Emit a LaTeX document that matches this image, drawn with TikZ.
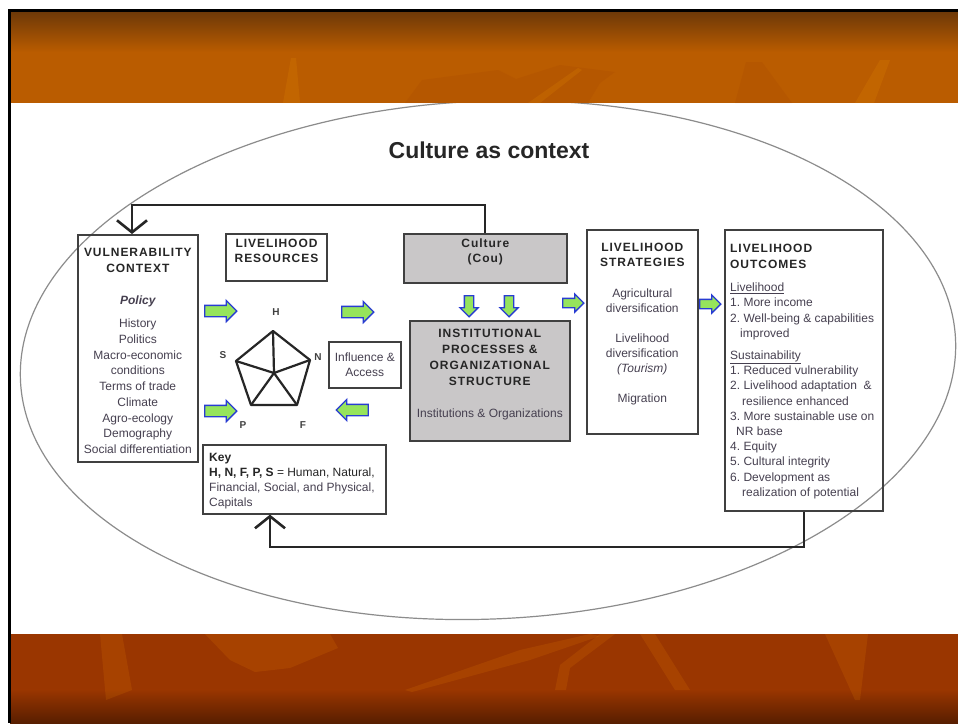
\documentclass[tikz,border=0pt]{standalone}
\usepackage{fontspec}
\setmainfont{Liberation Sans}
\newfontfamily\hdfont[LetterSpace=8]{Liberation Sans}
\usetikzlibrary{positioning,shapes.arrows,arrows.meta}
\frenchspacing

\definecolor{bandtop}{RGB}{108,56,8}
\definecolor{bandorange}{RGB}{186,92,0}
\definecolor{bandred}{RGB}{154,54,0}
\definecolor{banddark}{RGB}{88,30,0}
\definecolor{boxgray}{RGB}{201,199,200}
\definecolor{txtgray}{RGB}{70,64,80}
\definecolor{arrowgreen}{RGB}{150,228,92}
\definecolor{arrowblue}{RGB}{40,60,210}

\tikzset{
  box/.style={draw=black!75, line width=1.6pt, inner sep=0pt, anchor=north west, align=center},
  graybox/.style={box, fill=boxgray},
  hd/.style={font=\hdfont\fontsize{12}{16}\selectfont\bfseries, align=center, inner sep=0pt, text=black!85},
  body/.style={font=\fontsize{12}{15.6}\selectfont, align=center, inner sep=0pt, text=txtgray},
  caplabel/.style={font=\fontsize{10}{11}\selectfont\bfseries, inner sep=0pt, text=black!75},
  garrow/.style={single arrow, draw=arrowblue, fill=arrowgreen, line width=1.3pt,
                 inner xsep=0pt, inner ysep=5pt, single arrow head extend=5pt, minimum height=32pt},
  gsmall/.style={garrow, inner ysep=4pt, single arrow head extend=4.5pt, minimum height=21pt},
  feedback/.style={line width=2.2pt, black!85, -{Straight Barb[length=12pt,width=30pt,line width=2.6pt]}},
  ctxline/.style={black!45, line width=1.2pt},
  deco/.style={fill opacity=0.13}
}

\begin{document}
\begin{tikzpicture}[x=1pt,y=-1pt]
   \useasboundingbox (0,0) rectangle (958,723);
   %
   % slide background
   \fill[white] (0,0) rectangle (958,723);
   \draw[ctxline, rotate around={2.5:(488,360)}] (488,360) ellipse [x radius=468pt, y radius=259pt];
   %
   \shade[top color=bandtop, bottom color=bandorange] (10,11) rectangle (958,52);
   \fill[bandorange] (10,51.5) rectangle (958,103);
   \fill[deco, bandred] (405,103)--(422,80)--(498,70)--(516,79)--(560,65)--(615,72)--(600,83)--(588,103)--cycle;
   \fill[deco, orange!70!yellow] (283,103)--(291,58)--(296,58)--(300,103)--cycle;
   \fill[deco, orange!70!yellow] (528,103)--(578,68)--(582,70)--(540,103)--cycle;
   \fill[deco, bandred] (735,103)--(746,62)--(762,62)--(792,103)--cycle;
   \fill[deco, orange!70!yellow] (855,103)--(880,60)--(890,60)--(874,103)--cycle;
   %
   \fill[bandred] (10,634) rectangle (958,690);
   \shade[top color=bandred, bottom color=banddark] (10,689.5) rectangle (958,723);
   \fill[deco, orange!80!yellow] (100,634)--(122,634)--(132,690)--(106,700)--cycle;
   \fill[deco, orange!80!yellow] (205,634)--(230,660)--(255,672)--(290,668)--(338,648)--(330,634)--cycle;
   \fill[deco, orange!80!yellow] (405,690)--(520,650)--(590,634)--(600,636)--(530,660)--(412,692)--cycle;
   \fill[deco, orange!80!yellow] (555,690)--(560,665)--(600,634)--(615,634)--(570,668)--(566,690)--cycle;
   \fill[deco, orange!80!yellow] (640,634)--(655,634)--(690,690)--(675,690)--cycle;
   \fill[deco, orange!80!yellow] (825,634)--(868,634)--(860,700)--(855,700)--cycle;
   %
   \fill[black] (8,9) rectangle (11,723);
   \fill[black] (8,9) rectangle (958,11.5);
   %
   % title
   \node (title) [font=\fontsize{23}{28}\selectfont\bfseries, text=black!85] at (489,150) {Culture as context};
   %
   % boxes
   \node (vul) [box, minimum width=120pt, minimum height=227pt] at (77,234) {};
   \node (res) [box, minimum width=101pt, minimum height=47pt, line width=2pt] at (225,233) {};
   \node (inf) [box, minimum width=72pt, minimum height=46pt, text=txtgray,
                font=\fontsize{12}{15}\selectfont] at (328,341) {Influence \&\\Access};
   \node (key) [box, minimum width=183pt, minimum height=69pt] at (202,444) {};
   \node (cul) [graybox, minimum width=163pt, minimum height=49pt] at (403,233) {};
   \node (ins) [graybox, minimum width=160pt, minimum height=120pt] at (409,320) {};
   \node (str) [box, minimum width=111pt, minimum height=204pt] at (586,229) {};
   \node (out) [box, minimum width=158pt, minimum height=281pt] at (724,229) {};
   %
   % vulnerability context
   \node (vultitle) [hd, below=13.7pt of vul.north, font=\hdfont\fontsize{12}{16.5}\selectfont\bfseries] {VULNERABILITY\\CONTEXT};
   \node (vulpol) [body, below=61.5pt of vul.north, font=\fontsize{12}{15}\selectfont\bfseries\itshape] {Policy};
   \node (vullist) [body, below=84.7pt of vul.north, font=\fontsize{12}{15.75}\selectfont]
        {History\\Politics\\Macro-economic\\conditions\\Terms of trade\\Climate\\Agro-ecology\\Demography\\Social differentiation};
   %
   % livelihood resources
   \node (restitle) [hd, below=5.7pt of res.north, font=\hdfont\fontsize{12}{15}\selectfont\bfseries] {LIVELIHOOD\\RESOURCES};
   %
   \coordinate (pc) at (274,373);
   \coordinate (pH) at (273,331);
   \coordinate (pN) at (310,360);
   \coordinate (pF) at (297,405);
   \coordinate (pP) at (251,405);
   \coordinate (pS) at (236,361);
   \draw[line width=2.2pt, black!85, line join=round] (pH)--(pN)--(pF)--(pP)--(pS)--cycle;
   \foreach \v in {pH,pN,pF,pP,pS}
     \draw[line width=2.2pt, black!85] (pc) -- (\v);
   %
   \node (lH) [caplabel] at (276,312) {H};
   \node (lN) [caplabel] at (318,357) {N};
   \node (lF) [caplabel] at (303,425) {F};
   \node (lP) [caplabel] at (243,425) {P};
   \node (lS) [caplabel] at (223,355) {S};
   %
   \node (keytxt) [body, align=left, below right=8.7pt and 7pt of key.north west, font=\fontsize{12}{15}\selectfont]
        {\textcolor{black!85}{\textbf{Key}}\\\textcolor{black!85}{\textbf{H, N, F, P, S} = Human, Natural,}\\Financial, Social, and Physical,\\Capitals};
   %
   % culture and institutions
   \node (cultxt) [hd, below=5.7pt of cul.north, font=\hdfont\fontsize{12}{15}\selectfont\bfseries] {Culture\\(Cou)};
   \node (institle) [hd, below=8.7pt of ins.north] {INSTITUTIONAL\\PROCESSES \&\\ORGANIZATIONAL\\STRUCTURE};
   \node (insbody) [body, below=88.7pt of ins.north] {Institutions \& Organizations};
   %
   % strategies
   \node (strtitle) [hd, below=13.7pt of str.north, font=\hdfont\fontsize{12}{15}\selectfont\bfseries] {LIVELIHOOD\\STRATEGIES};
   \node (strbody) [body, below=59.7pt of str.north, font=\fontsize{12}{15}\selectfont]
        {Agricultural\\diversification\\[15pt]Livelihood\\diversification\\\textit{(Tourism)}\\[15pt]Migration};
   %
   % outcomes
   \node (outtitle) [hd, align=left, below right=14.7pt and 6pt of out.north west] {LIVELIHOOD\\OUTCOMES};
   \node (outbody) [body, align=left, below right=53.7pt and 6pt of out.north west, font=\fontsize{12}{15.2}\selectfont]
        {\underline{Livelihood}\\1. More income\\2. Well-being \& capabilities\\\hspace*{10pt}improved\\[7pt]%
         \underline{Sustainability}\\1. Reduced vulnerability\\2. Livelihood adaptation \ \&\\\hspace*{12pt}resilience enhanced\\%
         3. More sustainable use on\\\hspace*{6pt}NR base\\4. Equity\\5. Cultural integrity\\6. Development as\\%
         \hspace*{12pt}realization of potential};
   %
   % green arrows
   \node (ga1) [garrow] at (218,311) {};
   \node (ga2) [garrow] at (218,411) {};
   \node (ga3) [garrow] at (355,312) {};
   \node (ga4) [garrow, rotate=180] at (355,410) {};
   \node (gd1) [gsmall, rotate=-90] at (469,304) {};
   \node (gd2) [gsmall, rotate=-90] at (509,304) {};
   \node (gs) [gsmall] at (571,303) {};
   \node (go) [gsmall] at (708,304) {};
   %
   % feedback loops
   \coordinate (tl) at (132,205);
   \draw[feedback] (cul.north) |- (tl) -- (tl |- vul.north);
   \coordinate (bl) at (270,547);
   \draw[feedback] (out.south) |- (bl) -- (bl |- key.south);
   %
\end{tikzpicture}
\end{document}
